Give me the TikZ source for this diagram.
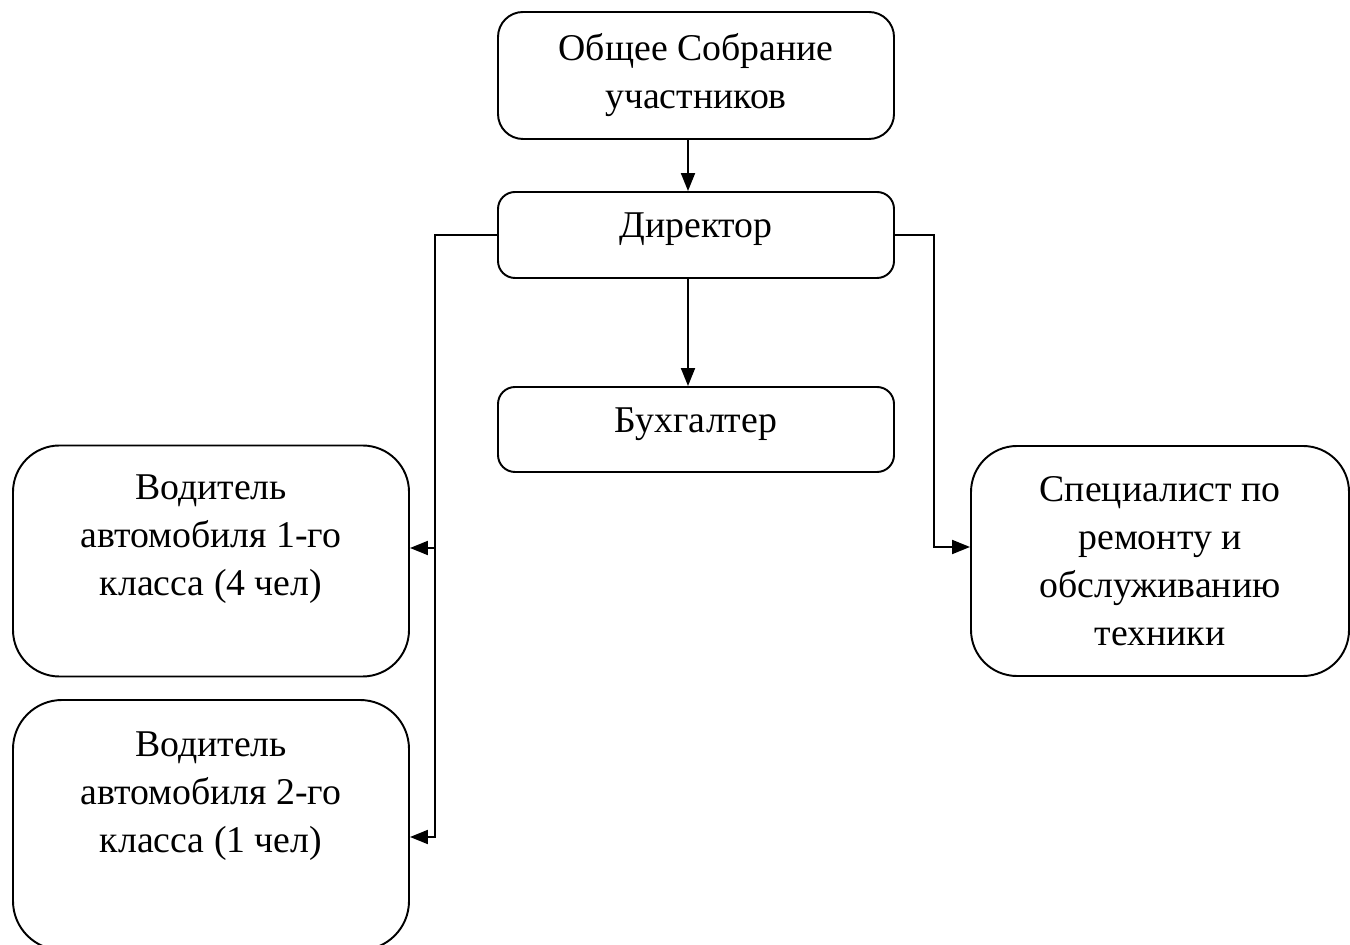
\documentclass[tikz,border=0pt]{standalone}
\usepackage{fontspec}
\setmainfont{Liberation Serif}
\usetikzlibrary{arrows.meta,calc}

\begin{document}
\begin{tikzpicture}[%
		>={Triangle[length=0.36cm, width=0.28cm]},
		font=\fontsize{21.5}{27.3}\selectfont,
		orgbox/.style={draw, line width=1.1pt, align=center, inner sep=0pt},
		link/.style={->, line width=1.1pt}
		]

		%% Rahmen des Bildes
		\useasboundingbox (0, 0) rectangle (27, 18.88);

		\node[orgbox, rounded corners=0.5cm, minimum width=7.92cm, minimum height=2.54cm] (sobranie) at (13.92, 17.37) {Общее Собрание\\участников};
		\node[orgbox, rounded corners=0.34cm, minimum width=7.92cm, minimum height=1.72cm] (direktor) at (13.92, 14.18) {\raisebox{0.12cm}[\height][\depth]{Директор}};
		\node[orgbox, rounded corners=0.34cm, minimum width=7.92cm, minimum height=1.70cm] (buhgalter) at (13.92, 10.29) {\raisebox{0.10cm}[\height][\depth]{Бухгалтер}};

		\node[orgbox, rounded corners=0.93cm, minimum width=7.92cm, minimum height=4.62cm] (voditel1) at (4.22, 7.66) {Водитель\\автомобиля 1-го\\класса (4 чел)\\[-0.2cm]\strut};
		\node[orgbox, rounded corners=0.98cm, minimum width=7.92cm, minimum height=5.00cm] (voditel2) at (4.22, 2.38) {Водитель\\автомобиля 2-го\\класса (1 чел)\\[0.05cm]\strut};
		\node[orgbox, rounded corners=0.92cm, minimum width=7.56cm, minimum height=4.60cm] (specialist) at (23.20, 7.66) {Специалист по\\ремонту и\\обслуживанию\\техники};

		\draw[link] ([xshift=-0.16cm]sobranie.south) -- ([xshift=-0.16cm]direktor.north);
		\draw[link] ([xshift=-0.16cm]direktor.south) -- ([xshift=-0.16cm]buhgalter.north);

		\coordinate (lturn) at (8.70, 7.92);
		\coordinate (ldown) at (8.70, 2.14);
		\draw[link] (direktor.west) -| (lturn) -- (lturn -| voditel1.east);
		\draw[link] (lturn) -- (ldown) -- (ldown -| voditel2.east);

		\coordinate (rturn) at (18.68, 7.94);
		\draw[link] (direktor.east) -| (rturn) -- (rturn -| specialist.west);
	\end{tikzpicture}
\end{document}
